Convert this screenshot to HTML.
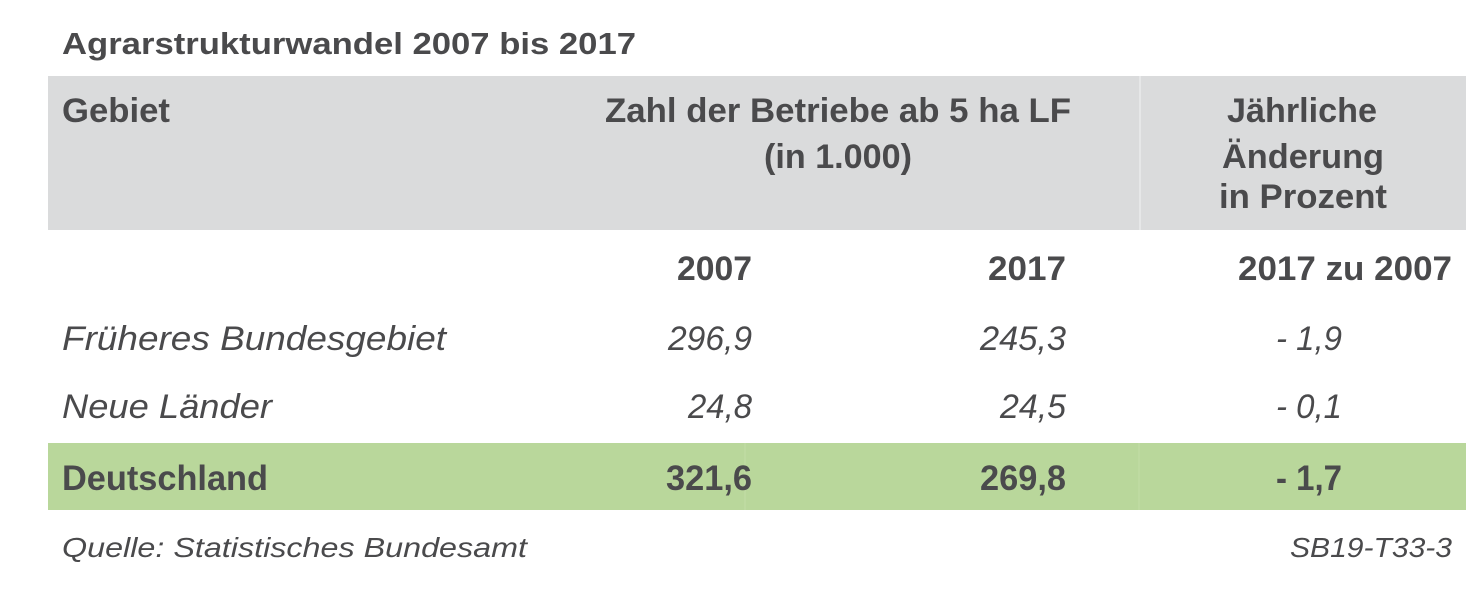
<!DOCTYPE html>
<html><head><meta charset="utf-8"><style>
html,body{margin:0;padding:0;background:#fff;}
svg{display:block;}
text{font-family:"Liberation Sans",sans-serif;fill:#4a4a4c;}
.b{font-weight:bold;}
.i{font-style:italic;}
</style></head><body>
<svg width="1466" height="593" viewBox="0 0 1466 593">
<text class="b" x="62" y="54" font-size="31" textLength="574" lengthAdjust="spacingAndGlyphs">Agrarstrukturwandel 2007 bis 2017</text>
<rect x="48" y="76" width="1418" height="154" fill="#dadbdc"/>
<line x1="1140" y1="76" x2="1140" y2="230" stroke="#e6e7e8" stroke-width="2"/>
<text class="b" x="62" y="122" font-size="34" textLength="108" lengthAdjust="spacingAndGlyphs">Gebiet</text>
<text class="b" x="605" y="122" font-size="34" textLength="466" lengthAdjust="spacingAndGlyphs">Zahl der Betriebe ab 5 ha LF</text>
<text class="b" x="764" y="168" font-size="34" textLength="148" lengthAdjust="spacingAndGlyphs">(in 1.000)</text>
<text class="b" x="1227" y="122" font-size="34" textLength="150" lengthAdjust="spacingAndGlyphs">Jährliche</text>
<text class="b" x="1222" y="168" font-size="34" textLength="162" lengthAdjust="spacingAndGlyphs">Änderung</text>
<text class="b" x="1219" y="208" font-size="34" textLength="168" lengthAdjust="spacingAndGlyphs">in Prozent</text>
<text class="b" x="677" y="280" font-size="34" textLength="75" lengthAdjust="spacingAndGlyphs">2007</text>
<text class="b" x="988" y="280" font-size="34" textLength="78" lengthAdjust="spacingAndGlyphs">2017</text>
<text class="b" x="1238" y="280" font-size="34" textLength="214" lengthAdjust="spacingAndGlyphs">2017 zu 2007</text>
<text class="i" x="62" y="350" font-size="34" textLength="384" lengthAdjust="spacingAndGlyphs">Früheres  Bundesgebiet</text>
<text class="i" x="668" y="350" font-size="34" textLength="84" lengthAdjust="spacingAndGlyphs">296,9</text>
<text class="i" x="980" y="350" font-size="34" textLength="86" lengthAdjust="spacingAndGlyphs">245,3</text>
<text class="i" x="1276" y="350" font-size="34" textLength="66" lengthAdjust="spacingAndGlyphs">- 1,9</text>
<text class="i" x="62" y="418" font-size="34" textLength="210" lengthAdjust="spacingAndGlyphs">Neue Länder</text>
<text class="i" x="688" y="418" font-size="34" textLength="64" lengthAdjust="spacingAndGlyphs">24,8</text>
<text class="i" x="1000" y="418" font-size="34" textLength="66" lengthAdjust="spacingAndGlyphs">24,5</text>
<text class="i" x="1276" y="418" font-size="34" textLength="66" lengthAdjust="spacingAndGlyphs">- 0,1</text>
<rect x="48" y="443" width="1418" height="67" fill="#b9d79b"/>
<line x1="745" y1="443" x2="745" y2="510" stroke="#c2dca7" stroke-width="1"/>
<line x1="1139" y1="443" x2="1139" y2="510" stroke="#c2dca7" stroke-width="1"/>
<text class="b" x="62" y="490" font-size="35" textLength="206" lengthAdjust="spacingAndGlyphs">Deutschland</text>
<text class="b" x="666" y="490" font-size="35" textLength="86" lengthAdjust="spacingAndGlyphs">321,6</text>
<text class="b" x="980" y="490" font-size="35" textLength="86" lengthAdjust="spacingAndGlyphs">269,8</text>
<text class="b" x="1276" y="490" font-size="35" textLength="66" lengthAdjust="spacingAndGlyphs">- 1,7</text>
<text class="i" x="62" y="557" font-size="28" textLength="465" lengthAdjust="spacingAndGlyphs">Quelle: Statistisches Bundesamt</text>
<text class="i" x="1290" y="557" font-size="28" textLength="162" lengthAdjust="spacingAndGlyphs">SB19-T33-3</text>
</svg>
</body></html>
